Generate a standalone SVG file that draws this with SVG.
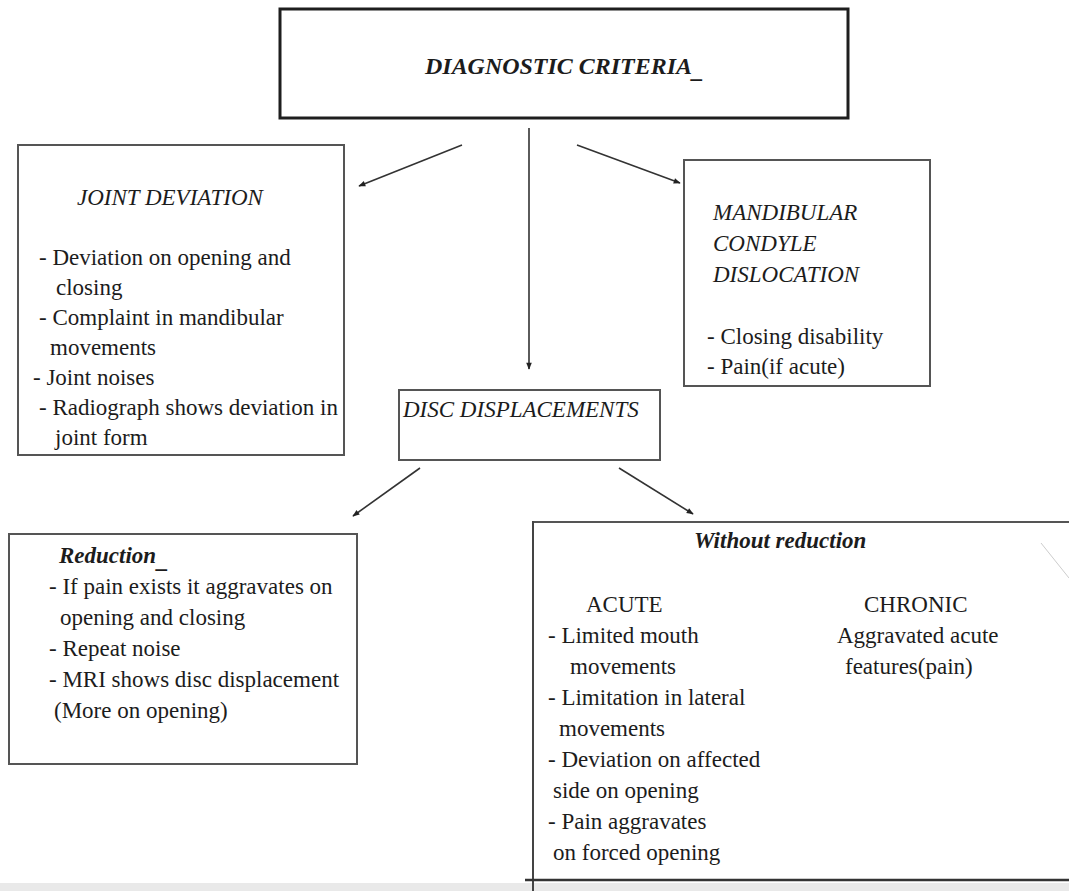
<svg xmlns="http://www.w3.org/2000/svg" width="1069" height="891" viewBox="0 0 1069 891" font-family="'Liberation Serif', Tinos, 'Times New Roman', 'DejaVu Serif', serif">
<defs>
<marker id="ah" viewBox="0 0 10 10" refX="9" refY="5" markerWidth="8" markerHeight="7" markerUnits="userSpaceOnUse" orient="auto">
<path d="M0,1 L10,5 L0,9 z" fill="#222"/>
</marker>
</defs>
<style>
text{font-family:'Liberation Serif', Tinos, 'Times New Roman', 'DejaVu Serif', serif;fill:#1c1c1c;font-size:23px}
.it{font-style:italic}
.bi{font-style:italic;font-weight:bold}
.box{fill:#fff;stroke:#555;stroke-width:2}
.conn line{stroke:#333;stroke-width:1.6;marker-end:url(#ah)}
</style>
<rect x="0" y="0" width="1069" height="891" fill="#fff"/>
<rect x="0" y="883" width="1069" height="8" fill="#e9e9e9"/>
<line x1="1041" y1="543" x2="1069" y2="578" stroke="#ccc" stroke-width="1"/>

<g id="node-diagnostic">
<rect x="280" y="9" width="568" height="109" fill="#fff" stroke="#1e1e1e" stroke-width="3"/>
<text class="bi" x="425" y="74" font-size="27" textLength="267" lengthAdjust="spacingAndGlyphs">DIAGNOSTIC CRITERIA</text>
<text class="bi" x="692" y="78" font-size="10">_</text>
</g>

<g id="node-joint">
<rect class="box" x="18" y="145" width="326" height="310"/>
<text class="it" x="77" y="205">JOINT DEVIATION</text>
<text x="39" y="265">- Deviation on opening and</text>
<text x="56" y="295">closing</text>
<text x="39" y="325">- Complaint in mandibular</text>
<text x="50" y="355">movements</text>
<text x="33" y="385">- Joint noises</text>
<text x="39" y="415">- Radiograph shows deviation in</text>
<text x="55" y="445">joint form</text>
</g>

<g id="node-mandibular">
<rect class="box" x="684" y="160" width="246" height="226"/>
<text class="it" x="713" y="220">MANDIBULAR</text>
<text class="it" x="713" y="251">CONDYLE</text>
<text class="it" x="713" y="282">DISLOCATION</text>
<text x="707" y="344">- Closing disability</text>
<text x="707" y="374">- Pain(if acute)</text>
</g>

<g id="node-disc">
<rect class="box" x="399" y="390" width="261" height="70"/>
<text class="it" x="403" y="417">DISC DISPLACEMENTS</text>
</g>

<g id="node-reduction">
<rect class="box" x="9" y="534" width="348" height="230"/>
<text class="bi" x="59" y="563">Reduction</text>
<text class="bi" x="157" y="568" font-size="10">_</text>
<text x="49" y="594">- If pain exists it aggravates on</text>
<text x="60" y="625">opening and closing</text>
<text x="49" y="656">- Repeat noise</text>
<text x="49" y="687">- MRI shows disc displacement</text>
<text x="54" y="718">(More on opening)</text>
</g>

<g id="node-without">
<line x1="533" y1="522" x2="1069" y2="522" stroke="#555" stroke-width="2.2"/>
<line x1="533" y1="521" x2="533" y2="891" stroke="#444" stroke-width="2"/>
<line x1="525" y1="880" x2="1069" y2="880" stroke="#333" stroke-width="2.5"/>
<text class="bi" x="694" y="548" font-size="22">Without reduction</text>
<text x="586" y="612">ACUTE</text>
<text x="548" y="643">- Limited mouth</text>
<text x="570" y="674">movements</text>
<text x="548" y="705">- Limitation in lateral</text>
<text x="559" y="736">movements</text>
<text x="548" y="767">- Deviation on affected</text>
<text x="553" y="798">side on opening</text>
<text x="548" y="829">- Pain aggravates</text>
<text x="553" y="860">on forced opening</text>
<text x="864" y="612">CHRONIC</text>
<text x="837" y="643">Aggravated acute</text>
<text x="845" y="674">features(pain)</text>
</g>

<g id="connectors" class="conn">
<line x1="462" y1="145" x2="359" y2="186"/>
<line x1="529" y1="128" x2="529" y2="369"/>
<line x1="577" y1="145" x2="680" y2="183"/>
<line x1="420" y1="468" x2="353" y2="516"/>
<line x1="619" y1="468" x2="693" y2="514"/>
</g>
</svg>
